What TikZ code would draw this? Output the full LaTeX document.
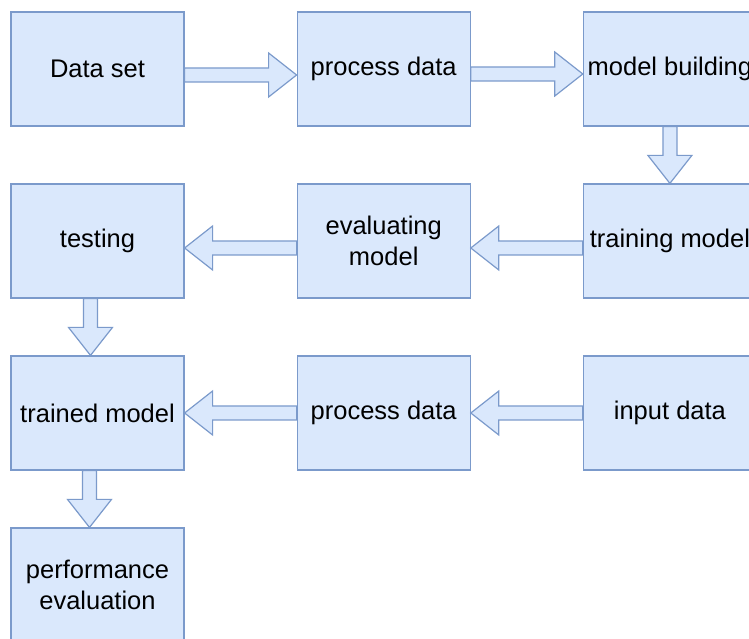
\documentclass[tikz,border=0pt]{standalone}
\usepackage{fontspec}
\setmainfont{Liberation Sans}
\usetikzlibrary{calc,positioning}

\definecolor{boxfill}{HTML}{DAE8FC}
\definecolor{boxline}{HTML}{7B9ACB}

% hollow block arrow from #1 to #2, both shifted by #3
\newcommand{\blockarrow}[3]{%
  \coordinate (tail) at ($(#1)+(#3)$);
  \coordinate (tip) at ($(#2)+(#3)$);
  \coordinate (neck) at ($(tip)!28pt!(tail)$);
  \draw[bigarrow] ($(tail)!7pt!90:(tip)$) -- ($(neck)!7pt!90:(tip)$) -- ($(neck)!22pt!90:(tip)$)
    -- (tip) -- ($(neck)!22pt!-90:(tip)$) -- ($(neck)!7pt!-90:(tip)$) -- ($(tail)!7pt!-90:(tip)$) -- cycle;
}

\begin{document}
\begin{tikzpicture}[x=1pt,y=1pt,node distance=56.8pt and 112pt]

\tikzset{stage/.style={fill=boxfill,draw=boxline,line width=1.2pt,minimum width=173pt,minimum height=114pt,inner sep=2pt,align=center,font=\fontsize{25.5}{31}\selectfont},
bigarrow/.style={fill=boxfill,draw=boxline,line width=1.2pt,line join=miter}}

\useasboundingbox (0,0) rectangle (749,639);

% First row
\node (ds) at (97.5,570) [stage] {Data set};
\node (pd) [right=of ds,stage] {process data};
\node (mb) [right=of pd,stage] {model building};

% Second row
\node (tm) [below=of mb,stage] {training model};
\node (em) [left=of tm,stage] {evaluating\\model};
\node (te) [left=of em,stage] {testing};

% Third row
\node (in) [below=of tm,stage] {input data};
\node (pd2) [left=of in,stage] {process data};
\node (trm) [left=of pd2,stage] {trained model};

% Last box
\node (pe) [below=of trm,stage] {performance\\evaluation};

% Block arrows
\blockarrow{ds.east}{pd.west}{0,-6}
\blockarrow{pd.east}{mb.west}{0,-5}
\blockarrow{mb.south}{tm.north}{0,0}
\blockarrow{tm.west}{em.east}{0,-7}
\blockarrow{em.west}{te.east}{0,-7}
\blockarrow{te.south}{trm.north}{-7,0}
\blockarrow{in.west}{pd2.east}{0,0}
\blockarrow{pd2.west}{trm.east}{0,0}
\blockarrow{trm.south}{pe.north}{-8,0}

\end{tikzpicture}
\end{document}
